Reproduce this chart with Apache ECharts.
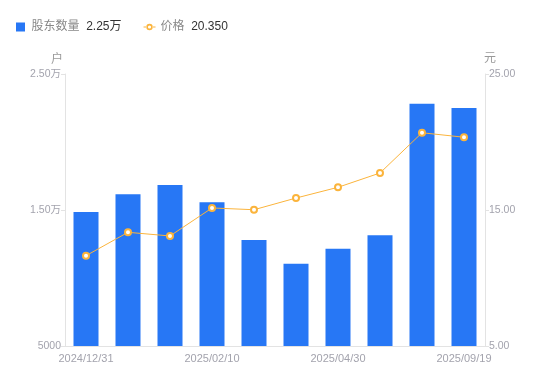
<!DOCTYPE html>
<html>
<head>
<meta charset="utf-8">
<script src="https://cdn.jsdelivr.net/npm/echarts@6/dist/echarts.min.js"></script>
<style>html,body{margin:0;padding:0;background:#fff;}#c{width:550px;height:381px;}</style>
</head>
<body>
<div id="c"></div>
<script>
var categories = ['2024/12/31','2025/01/10','2025/01/20','2025/02/10','2025/02/28','2025/03/31','2025/04/30','2025/06/30','2025/08/31','2025/09/19'];
var holders = [14850, 16150, 16840, 15570, 12790, 11050, 12150, 13140, 22820, 22500];
var prices = [11.64, 13.36, 13.09, 15.15, 15.02, 15.88, 16.67, 17.72, 20.68, 20.35];
var leftTicks = [5000, 15000, 25000];
var rightTicks = [5, 15, 25];
var legendValues = {'股东数量': '2.25万', '价格': '20.350'};

var FONT = '"Liberation Sans", "Noto Sans CJK SC", sans-serif';
var ORANGE = '#fbb43c';
var ringIcon = 'path://M0,4.5h3.2v1h-3.2z M8.8,4.5h3.2v1h-3.2z ' +
  'M9.2,5A3.2,3.2 0 1,0 2.8,5A3.2,3.2 0 1,0 9.2,5Z ' +
  'M7.6,5A1.6,1.6 0 1,1 4.4,5A1.6,1.6 0 1,1 7.6,5Z';
var chart = echarts.init(document.getElementById('c'), null, {renderer: 'canvas'});
chart.setOption({
  animation: false,
  textStyle: {fontFamily: FONT},
  legend: {
    left: 11, top: 16, itemWidth: 12, itemHeight: 9, itemGap: 22, symbolKeepAspect: true,
    data: [
      {name: '股东数量', icon: 'path://M0,0h9v9h-9z', itemStyle: {color: '#2777f5'}},
      {name: '价格', icon: ringIcon, itemStyle: {color: ORANGE, borderWidth: 0}}
    ],
    formatter: function (n) { return '{n|' + n + '}  {v|' + legendValues[n] + '}'; },
    textStyle: {
      fontFamily: FONT,
      rich: {
        n: {color: '#888', fontSize: 12, fontFamily: FONT},
        v: {color: '#333', fontSize: 12, fontFamily: FONT}
      }
    }
  },
  grid: {left: 65, right: 65, top: 74, bottom: 35, containLabel: false},
  xAxis: {
    type: 'category', data: categories,
    axisLine: {lineStyle: {color: '#e3e3e3'}},
    axisTick: {show: false},
    axisLabel: {color: '#a3a3ad', fontSize: 11, interval: 2, margin: 7, fontFamily: FONT}
  },
  yAxis: [{
    type: 'value', name: '户', min: leftTicks[0], max: leftTicks[2], interval: 10000,
    nameTextStyle: {color: '#999', fontSize: 12, align: 'right', padding: [0, 2, 0, 0]},
    nameGap: 8,
    axisLine: {show: true, lineStyle: {color: '#e3e3e3'}},
    axisTick: {show: true, length: 4, lineStyle: {color: '#e3e3e3'}},
    splitLine: {show: false},
    axisLabel: {color: '#a3a3ad', fontSize: 10.5, margin: 4, fontFamily: FONT,
      formatter: function (v) { return v >= 10000 ? (v / 10000).toFixed(2) + '万' : String(v); }}
  }, {
    type: 'value', name: '元', min: rightTicks[0], max: rightTicks[2], interval: 10,
    position: 'right',
    nameTextStyle: {color: '#999', fontSize: 12, align: 'left', padding: [0, 0, 0, -1]},
    nameGap: 9,
    axisLine: {show: true, lineStyle: {color: '#e3e3e3'}},
    axisTick: {show: true, length: 4, lineStyle: {color: '#e3e3e3'}},
    splitLine: {show: false},
    axisLabel: {color: '#a3a3ad', fontSize: 10.5, margin: 4, fontFamily: FONT,
      formatter: function (v) { return v.toFixed(2); }}
  }],
  series: [{
    name: '股东数量', type: 'bar', data: holders, yAxisIndex: 0,
    barWidth: 25, itemStyle: {color: '#2777f5'}
  }, {
    name: '价格', type: 'line', data: prices, yAxisIndex: 1,
    symbol: 'circle', symbolSize: 6, showAllSymbol: true,
    lineStyle: {color: ORANGE, width: 1},
    itemStyle: {color: '#fff', borderColor: ORANGE, borderWidth: 2}
  }]
});
</script>
</body>
</html>
